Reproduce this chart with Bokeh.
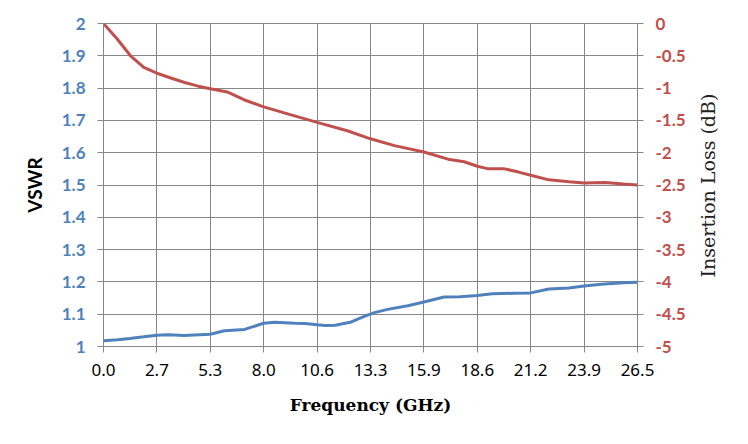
import math
from bokeh.plotting import figure
from bokeh.models import Range1d, LinearAxis, FixedTicker, Label
from bokeh.embed import file_html
from bokeh.resources import INLINE

# Frequency (GHz)
vswr_freq = [0.0, 0.7, 1.3, 2.0, 2.65, 3.2, 4.0, 5.3, 6.0, 7.0, 7.95, 8.5, 9.5,
             10.0, 10.6, 11.0, 11.5, 12.3, 13.0, 13.45, 14.1, 15.1, 15.9, 16.9,
             17.7, 18.55, 19.3, 20.4, 21.2, 22.1, 23.1, 23.85, 24.7, 25.8, 26.5]
vswr = [1.018, 1.021, 1.025, 1.030, 1.035, 1.036, 1.034, 1.038, 1.049, 1.053,
        1.072, 1.075, 1.072, 1.071, 1.067, 1.065, 1.066, 1.076, 1.095, 1.105,
        1.115, 1.126, 1.138, 1.153, 1.154, 1.158, 1.163, 1.165, 1.166, 1.178,
        1.181, 1.187, 1.193, 1.197, 1.199]

il_freq = [0.0, 0.68, 1.34, 2.0, 2.65, 3.3, 3.99, 4.7, 5.3, 6.14, 6.97, 7.95,
           9.27, 10.6, 12.1, 13.25, 14.44, 15.9, 17.1, 17.9, 18.55, 19.1, 19.9,
           20.6, 21.2, 22.1, 23.1, 23.85, 24.9, 25.8, 26.5]
insertion_loss = [0.0, -0.24, -0.50, -0.68, -0.77, -0.84, -0.91, -0.97, -1.01,
                  -1.06, -1.18, -1.29, -1.41, -1.53, -1.66, -1.785, -1.89, -1.99,
                  -2.10, -2.14, -2.21, -2.25, -2.25, -2.30, -2.35, -2.42, -2.45,
                  -2.47, -2.46, -2.485, -2.50]

x_ticks = [0.0, 2.65, 5.3, 7.95, 10.6, 13.25, 15.9, 18.55, 21.2, 23.85, 26.5]
x_labels = ["0.0", "2.7", "5.3", "8.0", "10.6", "13.3", "15.9", "18.6", "21.2", "23.9", "26.5"]
vswr_ticks = [1.0, 1.1, 1.2, 1.3, 1.4, 1.5, 1.6, 1.7, 1.8, 1.9, 2.0]
vswr_labels = ["1", "1.1", "1.2", "1.3", "1.4", "1.5", "1.6", "1.7", "1.8", "1.9", "2"]
il_ticks = [-5.0, -4.5, -4.0, -3.5, -3.0, -2.5, -2.0, -1.5, -1.0, -0.5, 0.0]
il_labels = ["-5", "-4.5", "-4", "-3.5", "-3", "-2.5", "-2", "-1.5", "-1", "-0.5", "0"]
il_title = "Insertion Loss (dB)"

BLUE = "#4F81BD"
RED = "#C0504D"
GRID = "#878787"

p = figure(width=740, height=436, output_backend="svg", toolbar_location=None,
           x_range=Range1d(0, 26.5), y_range=Range1d(1, 2),
           min_border_left=103, min_border_right=103, min_border_top=23,
           min_border_bottom=90)
p.extra_y_ranges = {"il": Range1d(-5, 0)}

p.outline_line_color = GRID
p.background_fill_color = "white"
p.border_fill_color = "white"

# left axis
ax = p.yaxis[0]
ax.ticker = FixedTicker(ticks=vswr_ticks)
ax.major_label_overrides = dict(zip(vswr_ticks, vswr_labels))
ax.axis_label = "VSWR"
ax.axis_label_text_font = "Lato"
ax.axis_label_text_font_style = "bold"
ax.axis_label_text_font_size = "19px"
ax.axis_label_text_color = "black"
ax.axis_label_standoff = 13
ax.major_label_text_font = "Lato"
ax.major_label_text_font_style = "bold"
ax.major_label_text_font_size = "17px"
ax.major_label_text_color = BLUE
ax.major_label_standoff = 12
ax.axis_line_color = GRID
ax.major_tick_line_color = GRID
ax.major_tick_out = 6
ax.major_tick_in = 0
ax.minor_tick_line_color = None

# right axis
ra = LinearAxis(y_range_name="il", ticker=FixedTicker(ticks=il_ticks))
ra.major_label_overrides = dict(zip(il_ticks, il_labels))
ra.major_label_text_font = "Lato"
ra.major_label_text_font_style = "bold"
ra.major_label_text_font_size = "17px"
ra.major_label_text_color = RED
ra.major_label_standoff = 12
ra.axis_line_color = GRID
ra.major_tick_line_color = GRID
ra.major_tick_out = 6
ra.major_tick_in = 0
ra.minor_tick_line_color = None
p.add_layout(ra, "right")

# right-side title, reading bottom to top
p.add_layout(Label(x=19, y=161, x_units="screen", y_units="screen", text=il_title,
                   angle=math.pi / 2, text_align="center", text_baseline="middle",
                   text_font="DejaVu Serif", text_font_size="19px",
                   text_color="#222222"), "right")

# bottom axis
bx = p.xaxis[0]
bx.ticker = FixedTicker(ticks=x_ticks)
bx.major_label_overrides = dict(zip(x_ticks, x_labels))
bx.axis_label = "Frequency (GHz)"
bx.axis_label_text_font = "DejaVu Serif"
bx.axis_label_text_font_style = "bold"
bx.axis_label_text_font_size = "17px"
bx.axis_label_text_color = "black"
bx.axis_label_standoff = 16
bx.major_label_text_font = "Noto Sans"
bx.major_label_text_font_size = "17px"
bx.major_label_text_color = "black"
bx.major_label_standoff = 11
bx.axis_line_color = GRID
bx.major_tick_line_color = GRID
bx.major_tick_out = 6
bx.major_tick_in = 0
bx.minor_tick_line_color = None

for g in (p.xgrid[0], p.ygrid[0]):
    g.grid_line_color = GRID
    g.grid_line_width = 1

p.line(vswr_freq, vswr, line_color=BLUE, line_width=3)
p.line(il_freq, insertion_loss, line_color=RED, line_width=3, y_range_name="il")

open("out.html", "w").write(file_html(p, INLINE))
